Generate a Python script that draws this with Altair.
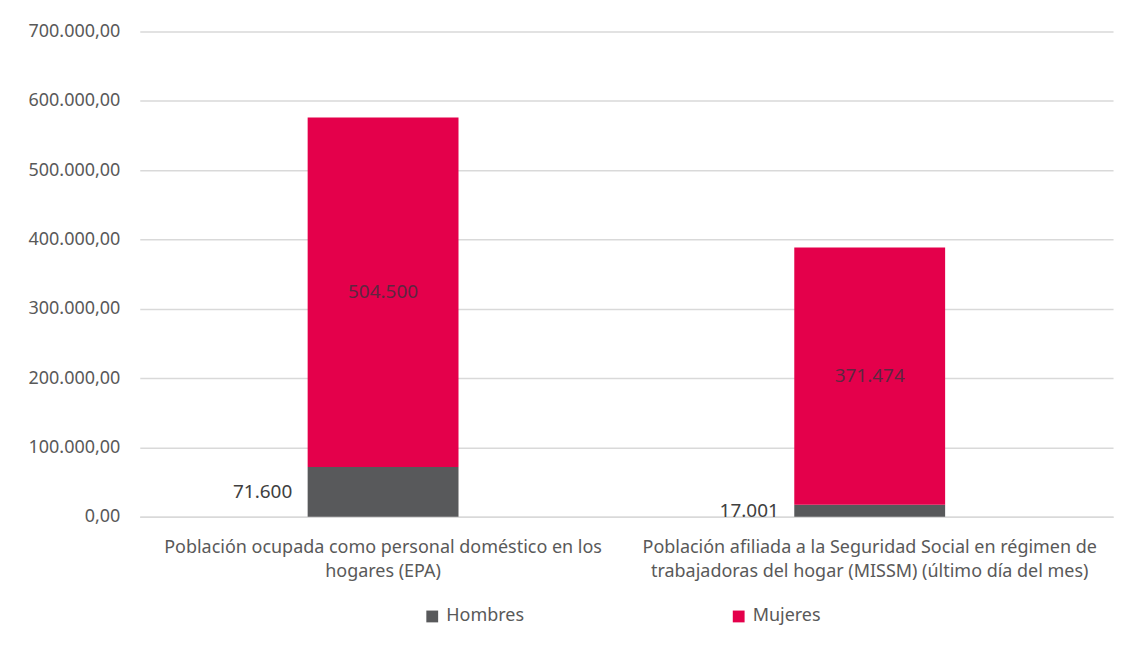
import altair as alt
import pandas as pd

categories = [
    "Población ocupada como personal doméstico en los|hogares (EPA)",
    "Población afiliada a la Seguridad Social en régimen de|trabajadoras del hogar (MISSM) (último día del mes)",
]
sexes = ["Hombres", "Mujeres"]
hombres = [71600, 17001]
mujeres = [504500, 371474]
y_ticks = [0, 100000, 200000, 300000, 400000, 500000, 600000, 700000]

rows = []
for c, h, m in zip(categories, hombres, mujeres):
    rows.append({"cat": c, "sexo": "Hombres", "valor": h, "ord": 0})
    rows.append({"cat": c, "sexo": "Mujeres", "valor": m, "ord": 1})
df = pd.DataFrame(rows)

FONT = "Noto Sans"
GRAY = "#595959"

x = alt.X(
    "cat:N",
    sort=categories,
    scale=alt.Scale(paddingInner=0.69, paddingOuter=0.345),
    axis=alt.Axis(
        title=None, labelAngle=0, labelExpr="split(datum.label, '|')",
        labelFontSize=18, labelColor=GRAY, labelFont=FONT, labelPadding=22,
        labelLineHeight=24, ticks=False, domainColor="#d9d9d9", domainWidth=1.5,
        labelLimit=700,
    ),
)

color = alt.Color(
    "sexo:N",
    scale=alt.Scale(domain=sexes, range=["#58595B", "#E4004B"]),
    legend=alt.Legend(
        title=None, orient="none", legendX=284, legendY=577, direction="horizontal",
        symbolType="square", symbolSize=140, symbolStrokeWidth=0,
        labelFontSize=18, labelColor=GRAY, labelFont=FONT,
        columnPadding=206, labelOffset=5, padding=0,
    ),
)

bars = alt.Chart(df).mark_bar().encode(
    x=x,
    y=alt.Y(
        "valor:Q",
        stack="zero",
        scale=alt.Scale(domain=[0, 700000]),
        axis=alt.Axis(
            title=None, values=y_ticks, labelOverlap=False, labelFlush=False,
            labelExpr="replace(replace(replace(format(datum.value, ',.2f'), regexp(',', 'g'), '#'), '.', ','), regexp('#', 'g'), '.')",
            labelFontSize=18, labelColor=GRAY, labelFont=FONT, labelPadding=20,
            ticks=False, domain=False, gridColor="#d9d9d9", gridWidth=1.5,
        ),
    ),
    color=color,
    order=alt.Order("ord:Q"),
)

base_text = alt.Chart(df).transform_stack(
    stack="valor", groupby=["cat"], as_=["y0", "y1"], sort=[alt.SortField("ord")]
).transform_calculate(
    mid="(datum.y0 + datum.y1) / 2",
    lbl="replace(format(datum.valor, ','), regexp(',', 'g'), '.')",
)

text_h = base_text.transform_filter("datum.sexo == 'Hombres'").mark_text(
    align="right", baseline="middle", dx=-91, fontSize=19, font=FONT, color="#404040"
).encode(x=alt.X("cat:N", sort=categories), y="mid:Q", text="lbl:N")

text_m = base_text.transform_filter("datum.sexo == 'Mujeres'").mark_text(
    align="center", baseline="middle", fontSize=19, font=FONT, color="#5e2640"
).encode(x=alt.X("cat:N", sort=categories), y="mid:Q", text="lbl:N")

chart = alt.layer(bars, text_h, text_m).properties(
    width=975, height=486, background="white",
    padding={"left": 19, "top": 14, "right": 10, "bottom": 5},
).configure_view(strokeWidth=0)

chart.save("out.html", embed_options={"renderer": "svg", "actions": False})
